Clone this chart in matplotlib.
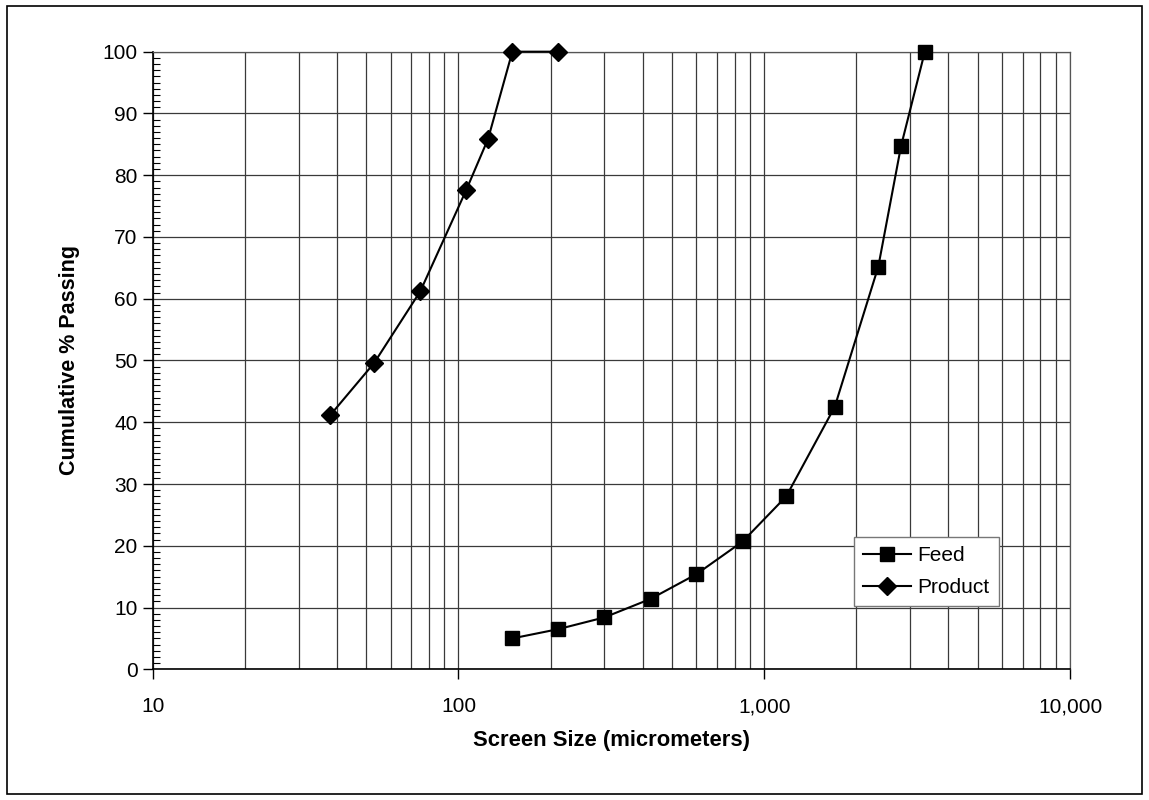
import matplotlib
matplotlib.use("Agg")
import matplotlib.pyplot as plt
from matplotlib.ticker import FixedLocator, MultipleLocator, FuncFormatter, NullFormatter
from matplotlib.patches import Rectangle

# sieve data
feed_size = [150, 212, 300, 425, 600, 850, 1180, 1700, 2360, 2800, 3350]
feed_pass = [5.0, 6.5, 8.4, 11.4, 15.4, 20.7, 28.0, 42.5, 65.2, 84.7, 100]
product_size = [38, 53, 75, 106, 125, 150, 212]
product_pass = [41.1, 49.6, 61.2, 77.6, 85.9, 100, 100]

x_major = [10, 100, 1000, 10000]
y_major = list(range(0, 101, 10))

plt.rcParams['font.family'] = ['Liberation Sans', 'DejaVu Sans']

fig = plt.figure(figsize=(11.49, 8), dpi=100)
ax = fig.add_axes([0.1329, 0.1634, 0.7984, 0.772])

ax.plot(feed_size, feed_pass, color="black", lw=1.5, marker="s", ms=9.5,
        label="Feed", zorder=3, clip_on=False)
ax.plot(product_size, product_pass, color="black", lw=1.5, marker="D", ms=9,
        label="Product", zorder=3, clip_on=False)

ax.set_xscale("log")
ax.set_xlim(10, 10000)
ax.set_ylim(0, 100)

# grid: every minor decade step on x, every 10 on y
minor_x = [m * 10 ** d for d in range(1, 4) for m in range(2, 10)]
ax.xaxis.set_major_locator(FixedLocator(x_major))
ax.xaxis.set_minor_locator(FixedLocator(minor_x))
ax.xaxis.set_major_formatter(FuncFormatter(lambda v, p: f"{v:,.0f}"))
ax.xaxis.set_minor_formatter(NullFormatter())
ax.yaxis.set_major_locator(FixedLocator(y_major))
ax.yaxis.set_minor_locator(MultipleLocator(1))

ax.grid(True, which="both", axis="x", color="#3a3a3a", lw=0.9)
ax.grid(True, which="major", axis="y", color="#3a3a3a", lw=0.9)

ax.tick_params(axis="x", which="major", direction="out", length=7, width=1,
               labelsize=15, pad=13)
ax.tick_params(axis="x", which="minor", length=0)
ax.tick_params(axis="y", which="major", direction="out", length=7, width=1,
               labelsize=15, pad=4)
ax.tick_params(axis="y", which="minor", direction="in", length=5, width=0.8)

for s in ["top", "right"]:
    ax.spines[s].set_color("#555555")
    ax.spines[s].set_linewidth(0.9)
for s in ["left", "bottom"]:
    ax.spines[s].set_color("black")
    ax.spines[s].set_linewidth(1.2)

ax.set_xlabel("Screen Size (micrometers)", fontsize=15.8, fontweight="bold",
              labelpad=10)
ax.set_ylabel("Cumulative % Passing", fontsize=15.5, fontweight="bold",
              labelpad=16)

leg = ax.legend(loc="lower left", bbox_to_anchor=(0.764, 0.102), fontsize=15,
                fancybox=False, framealpha=1, edgecolor="#777777",
                handlelength=2.3, handletextpad=0.3, borderpad=0.45,
                labelspacing=0.6, borderaxespad=0)
leg.get_frame().set_linewidth(1.0)

# border round the whole figure
fig.patches.append(Rectangle((0.006, 0.008), 0.988, 0.984, transform=fig.transFigure,
                             fill=False, ec="black", lw=1.2))

fig.savefig("out.png", dpi=100)
